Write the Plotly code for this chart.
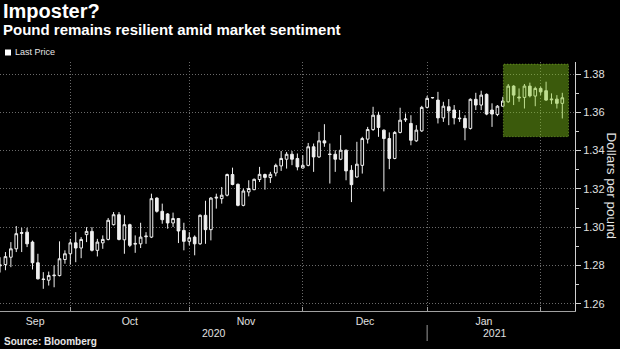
import plotly.graph_objects as go
import pandas as pd

# ---------------- data ----------------
start_date = "2020-09-14"   # first business day shown
open_ = [1.2798, 1.2805, 1.2843, 1.2887, 1.2972, 1.2974, 1.2922, 1.2814, 1.2729, 1.2723,
         1.2746, 1.2747, 1.2831, 1.2861, 1.2918, 1.2891, 1.2961, 1.2978, 1.2879, 1.2918,
         1.2936, 1.3013, 1.3065, 1.2934, 1.3013, 1.2911, 1.2913, 1.2950, 1.2948, 1.3152,
         1.3083, 1.3069, 1.3022, 1.3045, 1.2983, 1.2926, 1.2948, 1.2913, 1.3062, 1.2987,
         1.3152, 1.3149, 1.3167, 1.3275, 1.3224, 1.3114, 1.3184, 1.3196, 1.3249, 1.3275,
         1.3259, 1.3283, 1.3320, 1.3355, 1.3381, 1.3359, 1.3309, 1.3323, 1.3420, 1.3367,
         1.3451, 1.3382, 1.3381, 1.3355, 1.3402, 1.3297, 1.3262, 1.3323, 1.3460, 1.3510,
         1.3585, 1.3507, 1.3463, 1.3359, 1.3495, 1.3561, 1.3542, 1.3451, 1.3503, 1.3626,
         1.3676, 1.3664, 1.3571, 1.3629, 1.3612, 1.3570, 1.3568, 1.3516, 1.3668, 1.3638,
         1.3694, 1.3612, 1.3589, 1.3632, 1.3655, 1.3737, 1.3680, 1.3678, 1.3737, 1.3685,
         1.3725, 1.3713, 1.3670, 1.3669, 1.3647]
high = [1.2843, 1.2870, 1.2922, 1.3006, 1.2997, 1.2997, 1.2930, 1.2861, 1.2765, 1.2768,
        1.2800, 1.2926, 1.2879, 1.2939, 1.2974, 1.2948, 1.3000, 1.3000, 1.2939, 1.2957,
        1.3048, 1.3079, 1.3079, 1.3062, 1.3018, 1.2957, 1.3023, 1.2974, 1.3175, 1.3156,
        1.3123, 1.3074, 1.3076, 1.3048, 1.3023, 1.2974, 1.2957, 1.3067, 1.3138, 1.3157,
        1.3175, 1.3210, 1.3280, 1.3311, 1.3228, 1.3202, 1.3245, 1.3254, 1.3315, 1.3280,
        1.3289, 1.3332, 1.3398, 1.3393, 1.3398, 1.3385, 1.3376, 1.3440, 1.3437, 1.3498,
        1.3538, 1.3437, 1.3402, 1.3481, 1.3406, 1.3324, 1.3446, 1.3472, 1.3524, 1.3629,
        1.3603, 1.3510, 1.3495, 1.3502, 1.3624, 1.3594, 1.3585, 1.3533, 1.3634, 1.3686,
        1.3680, 1.3707, 1.3655, 1.3669, 1.3638, 1.3612, 1.3585, 1.3673, 1.3702, 1.3713,
        1.3699, 1.3647, 1.3638, 1.3681, 1.3748, 1.3742, 1.3725, 1.3748, 1.3755, 1.3734,
        1.3734, 1.3760, 1.3699, 1.3690, 1.3702]
low = [1.2763, 1.2775, 1.2791, 1.2870, 1.2870, 1.2896, 1.2779, 1.2727, 1.2678, 1.2695,
       1.2686, 1.2743, 1.2809, 1.2804, 1.2817, 1.2838, 1.2922, 1.2873, 1.2847, 1.2887,
       1.2931, 1.3009, 1.2931, 1.2861, 1.2896, 1.2866, 1.2891, 1.2913, 1.2943, 1.3076,
       1.3018, 1.2992, 1.3001, 1.2917, 1.2879, 1.2905, 1.2853, 1.2908, 1.2913, 1.2931,
       1.3097, 1.3123, 1.3161, 1.3219, 1.3109, 1.3109, 1.3161, 1.3193, 1.3236, 1.3196,
       1.3231, 1.3266, 1.3294, 1.3306, 1.3324, 1.3297, 1.3306, 1.3318, 1.3289, 1.3362,
       1.3420, 1.3228, 1.3289, 1.3350, 1.3245, 1.3131, 1.3259, 1.3280, 1.3437, 1.3503,
       1.3472, 1.3187, 1.3303, 1.3355, 1.3490, 1.3550, 1.3428, 1.3446, 1.3498, 1.3620,
       1.3672, 1.3542, 1.3550, 1.3533, 1.3537, 1.3550, 1.3454, 1.3510, 1.3612, 1.3612,
       1.3585, 1.3524, 1.3580, 1.3629, 1.3650, 1.3638, 1.3655, 1.3620, 1.3678, 1.3632,
       1.3690, 1.3660, 1.3643, 1.3620, 1.3568]
close = [1.2802, 1.2846, 1.2887, 1.2966, 1.2968, 1.2913, 1.2814, 1.2730, 1.2727, 1.2747,
         1.2749, 1.2835, 1.2861, 1.2918, 1.2891, 1.2936, 1.2978, 1.2879, 1.2922, 1.2936,
         1.3036, 1.3065, 1.2936, 1.3013, 1.2905, 1.2915, 1.2948, 1.2953, 1.3149, 1.3083,
         1.3039, 1.3022, 1.3045, 1.2980, 1.2926, 1.2945, 1.2913, 1.3062, 1.2987, 1.3152,
         1.3156, 1.3167, 1.3275, 1.3223, 1.3114, 1.3189, 1.3202, 1.3250, 1.3276, 1.3260,
         1.3276, 1.3323, 1.3359, 1.3381, 1.3355, 1.3315, 1.3323, 1.3420, 1.3367, 1.3451,
         1.3440, 1.3380, 1.3355, 1.3402, 1.3294, 1.3222, 1.3329, 1.3463, 1.3510, 1.3585,
         1.3521, 1.3463, 1.3359, 1.3495, 1.3559, 1.3565, 1.3454, 1.3507, 1.3626, 1.3673,
         1.3677, 1.3571, 1.3632, 1.3608, 1.3571, 1.3567, 1.3519, 1.3668, 1.3638, 1.3690,
         1.3591, 1.3591, 1.3632, 1.3659, 1.3737, 1.3690, 1.3676, 1.3737, 1.3686, 1.3725,
         1.3707, 1.3664, 1.3666, 1.3647, 1.3676]
month_labels = ["Sep", "Oct", "Nov", "Dec", "Jan"]
year_labels = ["2020", "2021"]
y_ticks = [1.26, 1.28, 1.30, 1.32, 1.34, 1.36, 1.38]

# highlighted window (last ~2 weeks) and its price band
hl_first_idx, hl_last_idx = 93, 104
hl_low, hl_high = 1.3473, 1.3852

# ---------------- derived positions ----------------
dates = pd.bdate_range(start_date, periods=len(close))
idx = list(range(len(close)))
month_starts = [i for i in range(1, len(dates)) if dates[i].month != dates[i - 1].month]
bounds = [0] + month_starts
label_pos = [(bounds[k] + bounds[k + 1]) / 2 for k in range(len(month_labels))]
year_start = next(i for i, d in enumerate(dates) if d.year == 2021)
year_pos = [(0 + year_start) / 2, (year_start + idx[-1]) / 2]

# ---------------- geometry ----------------
W, H = 620, 349
ML, MR, MT, MB = 0, 45, 62, 38
PW, PH = W - ML - MR, H - MT - MB


def px(x):
    return (x - ML) / PW


def py(y):
    return (MT + PH - y) / PH


FONT = "Liberation Sans, Arial, sans-serif"
CANDLE = "#f0f0f0"
GRID = "#6a6a6a"
GRIDDASH = "1px,2px"

fig = go.Figure()
fig.add_trace(go.Candlestick(
    x=idx, open=open_, high=high, low=low, close=close,
    text=[d.strftime("%d %b %Y") for d in dates],
    increasing=dict(line=dict(color=CANDLE, width=1), fillcolor="#000000"),
    decreasing=dict(line=dict(color=CANDLE, width=1), fillcolor=CANDLE),
    whiskerwidth=0, showlegend=False, name="Last Price",
))

shapes = [
    # highlighted window
    dict(type="rect", xref="x", yref="y", x0=hl_first_idx + 0.1, x1=hl_last_idx + 1.15,
         y0=hl_low, y1=hl_high, fillcolor="rgba(131,200,27,0.45)",
         line=dict(color="rgba(150,210,60,0.6)", width=1, dash="1px,2px"), layer="above"),
    # legend swatch
    dict(type="rect", xref="paper", yref="paper", x0=px(5), x1=px(11), y0=py(55.5), y1=py(49.5),
         fillcolor="#ffffff", line=dict(width=0)),
    # year separator
    dict(type="line", xref="x", yref="paper", x0=year_start, x1=year_start, y0=py(325), y1=py(341),
         line=dict(color="#9a9a9a", width=1)),
]

annotations = [
    dict(text="<b>Imposter?</b>", x=px(1), y=py(11.4), xref="paper", yref="paper",
         xanchor="left", yanchor="middle", showarrow=False,
         font=dict(family=FONT, size=20, color="#ffffff")),
    dict(text="<b>Pound remains resilient amid market sentiment</b>", x=px(1), y=py(29.1),
         xref="paper", yref="paper", xanchor="left", yanchor="middle", showarrow=False,
         font=dict(family=FONT, size=15, color="#ffffff")),
    dict(text="Last Price", x=px(12.5), y=py(52.2), xref="paper", yref="paper",
         xanchor="left", yanchor="middle", showarrow=False,
         font=dict(family=FONT, size=9, color="#e6e6e6")),
    dict(text="<b>Source: Bloomberg</b>", x=px(2), y=py(341), xref="paper", yref="paper",
         xanchor="left", yanchor="middle", showarrow=False,
         font=dict(family=FONT, size=10, color="#e6e6e6")),
    dict(text="Dollars per pound", x=px(611.5), y=py(186), xref="paper", yref="paper",
         xanchor="center", yanchor="middle", textangle=90, showarrow=False,
         font=dict(family=FONT, size=13.5, color="#e6e6e6")),
]
for lab, pos in zip(year_labels, year_pos):
    annotations.append(dict(text=lab, x=pos, y=py(333), xref="x", yref="paper",
                            xanchor="center", yanchor="middle", showarrow=False,
                            font=dict(family=FONT, size=10.5, color="#e0e0e0")))

fig.update_layout(
    width=W, height=H,
    margin=dict(l=ML, r=MR, t=MT, b=MB, pad=0),
    paper_bgcolor="#000000", plot_bgcolor="#000000",
    shapes=shapes, annotations=annotations,
    showlegend=False,
    xaxis=dict(
        range=[-0.01, 106.35], rangeslider=dict(visible=False),
        tickmode="array", tickvals=label_pos, ticktext=month_labels,
        ticks="", showgrid=False, zeroline=False,
        showline=True, linecolor="#a0a0a0", linewidth=1,
        tickfont=dict(family=FONT, size=10.5, color="#e0e0e0"),
        minor=dict(tickmode="array", tickvals=month_starts, ticks="inside", ticklen=4,
                   tickcolor="#a0a0a0", showgrid=True, gridcolor=GRID, griddash=GRIDDASH,
                   gridwidth=1),
        fixedrange=True,
    ),
    yaxis=dict(
        side="right", range=[1.2562, 1.3863],
        tickmode="array", tickvals=y_ticks, ticktext=[f"{v:.2f}" for v in y_ticks],
        ticks="outside", ticklen=5, tickcolor="#d0d0d0",
        showline=True, linecolor="#d0d0d0", linewidth=1,
        showgrid=True, gridcolor=GRID, griddash=GRIDDASH, gridwidth=1, zeroline=False,
        tickfont=dict(family=FONT, size=11, color="#e0e0e0"),
        minor=dict(dtick=0.01, tick0=1.25, ticks="outside", ticklen=3, tickcolor="#d0d0d0",
                   showgrid=False),
        fixedrange=True,
    ),
)

fig.write_html("out.html")
